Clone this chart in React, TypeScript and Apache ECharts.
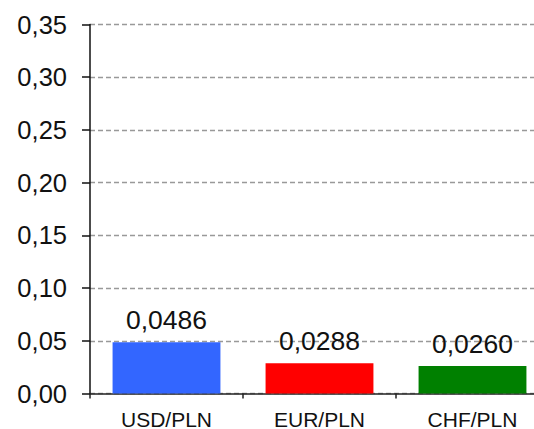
import React, { useEffect, useRef } from "react";
import * as echarts from "echarts";

const categories = ["USD/PLN", "EUR/PLN", "CHF/PLN"];
const values = [0.0486, 0.0288, 0.026];
const barColors = ["#3366ff", "#ff0000", "#008000"];
const yTicks = { min: 0, max: 0.35, interval: 0.05 };

const fmt = (v: number, d: number) => v.toFixed(d).replace(".", ",");

export default function App() {
  const ref = useRef<HTMLDivElement>(null);
  useEffect(() => {
    if (!ref.current) return;
    const chart = echarts.init(ref.current, null, { renderer: "svg" });
    chart.setOption({
      animation: false,
      backgroundColor: "#ffffff",
      textStyle: { fontFamily: "Liberation Sans, Arial, sans-serif" },
      grid: { left: 90, top: 24.5, height: 369, width: 459, outerBoundsMode: "none", containLabel: false },
      xAxis: {
        type: "category",
        data: categories,
        axisLine: { lineStyle: { color: "#222", width: 1.5 } },
        axisTick: { show: true, length: 5, lineStyle: { color: "#222", width: 1.5 } },
        axisLabel: { color: "#111", fontSize: 21, margin: 15, fontFamily: "Liberation Sans" },
        splitLine: { show: false },
      },
      yAxis: {
        type: "value",
        min: yTicks.min,
        max: yTicks.max,
        interval: yTicks.interval,
        axisLine: { show: true, lineStyle: { color: "#111", width: 1.5 } },
        axisTick: { show: true, length: 8, lineStyle: { color: "#111", width: 1.5 } },
        axisLabel: {
          color: "#111",
          fontSize: 25.5,
          margin: 23,
          fontFamily: "Liberation Sans",
          formatter: (v: number) => fmt(v, 2),
        },
        splitLine: { show: true, lineStyle: { color: "#999", type: [5, 3], width: 1.3 } },
      },
      series: [
        {
          type: "bar",
          barWidth: "70.5%",
          data: values.map((v, i) => ({ value: v, itemStyle: { color: barColors[i] } })),
          label: {
            show: true,
            position: "top",
            distance: 9,
            color: "#111",
            fontSize: 26.5,
            fontFamily: "Liberation Sans",
            formatter: (p: any) => fmt(p.value, 4),
          },
        },
      ],
    });
    return () => chart.dispose();
  }, []);
  return (
    <div
      ref={ref}
      style={{ position: "fixed", left: 0, top: 0, width: 534, height: 429 }}
    />
  );
}
